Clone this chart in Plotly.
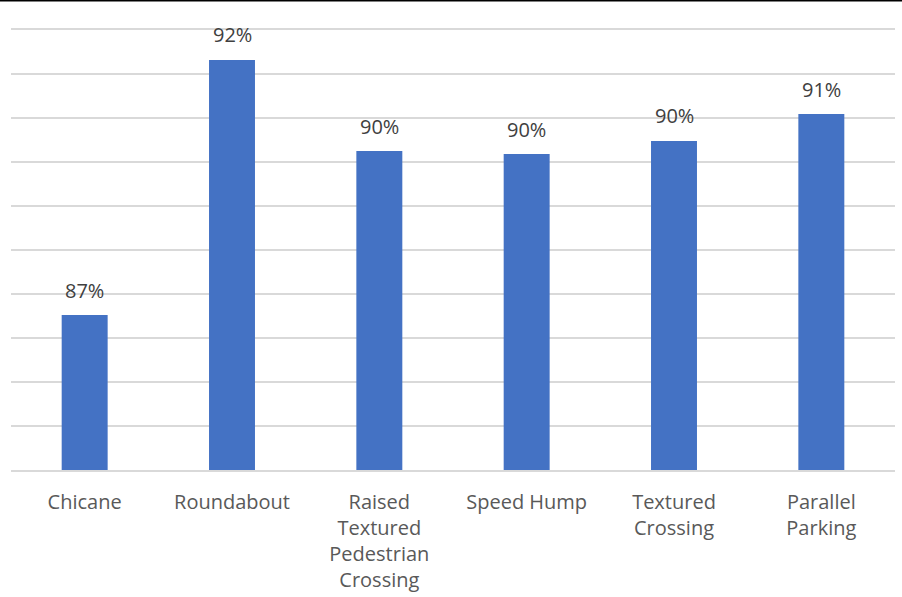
import plotly.graph_objects as go

categories = ["Chicane", "Roundabout", "Raised<br>Textured<br>Pedestrian<br>Crossing",
              "Speed Hump", "Textured<br>Crossing", "Parallel<br>Parking"]
values = [86.52, 92.32, 90.25, 90.18, 90.48, 91.09]
label_texts = [f"{round(v)}%" for v in values]

W, H = 902, 597
ml, mr, mt, mb = 11, 7, 30, 127

fig = go.Figure()
fig.add_trace(go.Bar(
    x=categories, y=values,
    marker=dict(color="#4472C4", line=dict(width=0)),
    hoverinfo="skip",
))

for c, v, t in zip(categories, values, label_texts):
    fig.add_annotation(x=c, y=v, text=t, showarrow=False, yanchor="middle",
                       yshift=25, font=dict(family="Open Sans", size=20, color="#404040"))

ph = H - mt - mb
pw = W - ml - mr
fig.add_shape(type="line", xref="paper", yref="paper",
              x0=-ml / pw, x1=(W - ml) / pw, y0=1 + (mt - 0.8) / ph, y1=1 + (mt - 0.8) / ph,
              line=dict(color="#000000", width=1.6))

fig.update_layout(
    width=W, height=H,
    margin=dict(l=ml, r=mr, t=mt, b=mb, autoexpand=False),
    paper_bgcolor="white", plot_bgcolor="white",
    bargap=0.688,
    showlegend=False,
    font=dict(family="Open Sans", size=20, color="#595959"),
)
fig.update_xaxes(
    showgrid=False, zeroline=False, automargin=False,
    showline=True, mirror=True, linecolor="#d9d9d9", linewidth=1.5,
    ticks="", tickfont=dict(family="Open Sans", size=20, color="#595959"),
    ticklabelstandoff=13,
)
fig.update_yaxes(
    range=[83, 93], dtick=1, tick0=83, automargin=False,
    showgrid=True, gridcolor="#d9d9d9", gridwidth=1.5,
    showticklabels=False, zeroline=False, showline=False, ticks="",
)

fig.write_html("out.html", config={"displayModeBar": False},
               post_script="document.body.style.margin='0px';document.body.style.overflow='hidden';")
